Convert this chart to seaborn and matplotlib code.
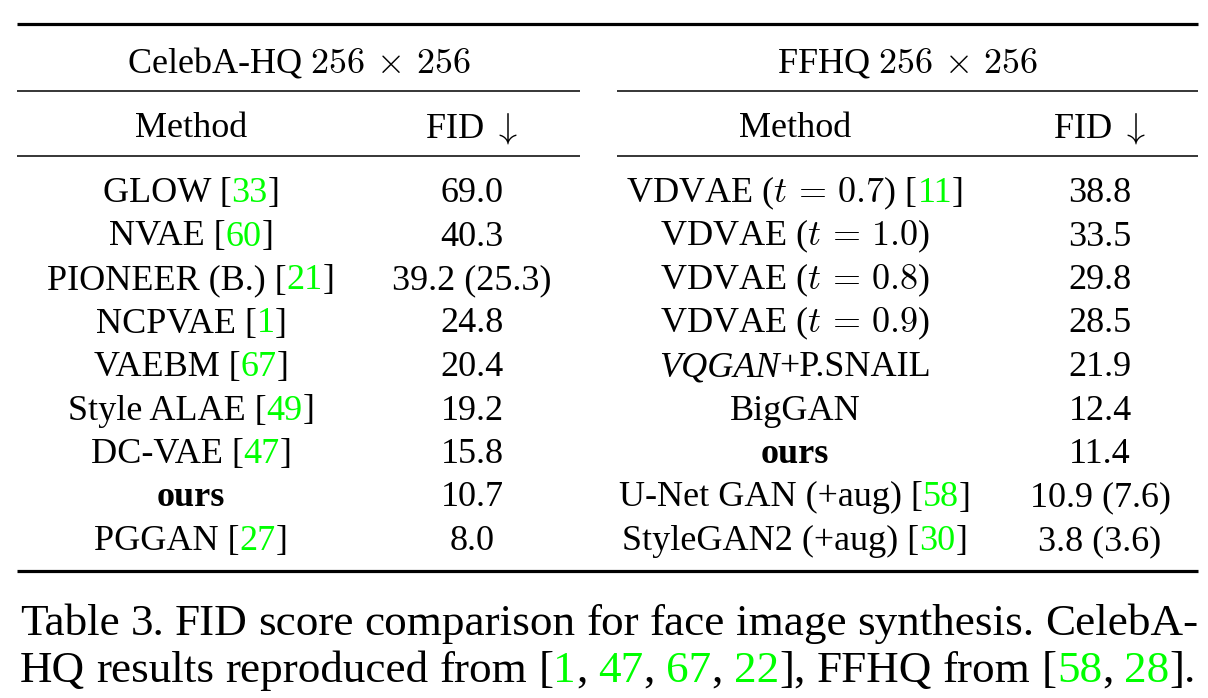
import re
import matplotlib
matplotlib.use("Agg")
import matplotlib.pyplot as plt
import seaborn as sns

# table content, {..} = green citation, *..* = italic, **..** = bold
group_titles = ["CelebA-HQ $256\\,\\times\\,256$", "FFHQ $256\\,\\times\\,256$"]
col_titles = ["Method", "FID $\\downarrow$"]

celeba_methods = ["GLOW", "NVAE", "PIONEER (B.)", "NCPVAE", "VAEBM",
                  "Style ALAE", "DC-VAE", "**ours**", "PGGAN"]
celeba_refs = ["33", "60", "21", "1", "67", "49", "47", None, "27"]
celeba_fid = ["69.0", "40.3", "39.2 (25.3)", "24.8", "20.4", "19.2", "15.8", "10.7", "8.0"]

ffhq_methods = ["VDVAE ($t\\,=\\,0.7$)", "VDVAE ($t\\,=\\,1.0$)", "VDVAE ($t\\,=\\,0.8$)",
                "VDVAE ($t\\,=\\,0.9$)", "*VQGAN*+P.SNAIL", "BigGAN", "**ours**",
                "U-Net GAN (+aug)", "StyleGAN2 (+aug)"]
ffhq_refs = ["11", None, None, None, None, None, None, "58", "30"]
ffhq_fid = ["38.8", "33.5", "29.8", "28.5", "21.9", "12.4", "11.4", "10.9 (7.6)", "3.8 (3.6)"]

caption = ["Table 3. FID score comparison for face image synthesis. CelebA-",
           "HQ results reproduced from [{1}, {47}, {67}, {22}], FFHQ from [{58}, {28}]."]

sns.set_theme(style="white")
plt.rcParams["font.family"] = ["Liberation Serif", "DejaVu Serif"]
plt.rcParams["mathtext.fontset"] = "cm"

GREEN = "#00ff00"
FS = 26
CAP_FS = 32.5

fig = plt.figure(figsize=(12.08, 6.98), dpi=100)
ax = fig.add_axes([0, 0, 1, 1])
ax.set_xlim(0, 1208)
ax.set_ylim(698, 0)
ax.axis("off")
renderer = fig.canvas.get_renderer()

TOKEN = re.compile(r"(\{[^}]*\}|\*\*[^*]+\*\*|\*[^*]+\*)")


def pieces(s):
    out = []
    for part in TOKEN.split(s):
        if not part:
            continue
        if part.startswith("{"):
            out.append((part[1:-1], {"color": GREEN}))
        elif part.startswith("**"):
            out.append((part[2:-2], {"weight": "bold"}))
        elif part.startswith("*"):
            out.append((part[1:-1], {"style": "italic"}))
        else:
            out.append((part, {}))
    return out


def make(s, y, size):
    arts = []
    for txt, kw in pieces(s):
        kw = dict(kw)
        color = kw.pop("color", "black")
        arts.append(ax.text(0, y, txt, fontsize=size, va="baseline", ha="left",
                            color=color, **kw))
    widths = [a.get_window_extent(renderer).width for a in arts]
    return arts, widths


def place(arts, widths, x0):
    x = x0
    for a, w in zip(arts, widths):
        a.set_x(x)
        x += w
    return x


def put(x, y, s, size=FS):
    arts, widths = make(s, y, size)
    place(arts, widths, x - sum(widths) / 2)


def justify(x0, x1, y, line, size=CAP_FS):
    words = [make(w, y, size) for w in line.split(" ")]
    total = sum(sum(w) for _, w in words)
    gap = (x1 - x0 - total) / (len(words) - 1)
    x = x0
    for arts, widths in words:
        x = place(arts, widths, x) + gap


# layout
left = (17, 580)
right = (617, 1198)
method_x = [191, 795]
fid_x = [472, 1100]
row0, row_h = 202, 43.5

ax.hlines(24, 17, 1198, color="black", lw=2.3)
ax.hlines(571, 17, 1198, color="black", lw=2.3)
for (a, b) in (left, right):
    ax.hlines([91, 156], a, b, color="black", lw=1.1)

for g, (a, b) in enumerate((left, right)):
    put((a + b) / 2, 72, group_titles[g])
    put(method_x[g], 137, col_titles[0])
    put(fid_x[g], 137, col_titles[1])

for g, (methods, refs, fids) in enumerate([(celeba_methods, celeba_refs, celeba_fid),
                                           (ffhq_methods, ffhq_refs, ffhq_fid)]):
    for i, (m, r, f) in enumerate(zip(methods, refs, fids)):
        y = row0 + i * row_h
        label = m if r is None else m + " [{" + r + "}]"
        put(method_x[g], y, label)
        put(fid_x[g], y, f)

justify(20, 1198, 635, caption[0])
justify(20, 1196, 682, caption[1])

fig.savefig("out.png", dpi=100, facecolor="white")
